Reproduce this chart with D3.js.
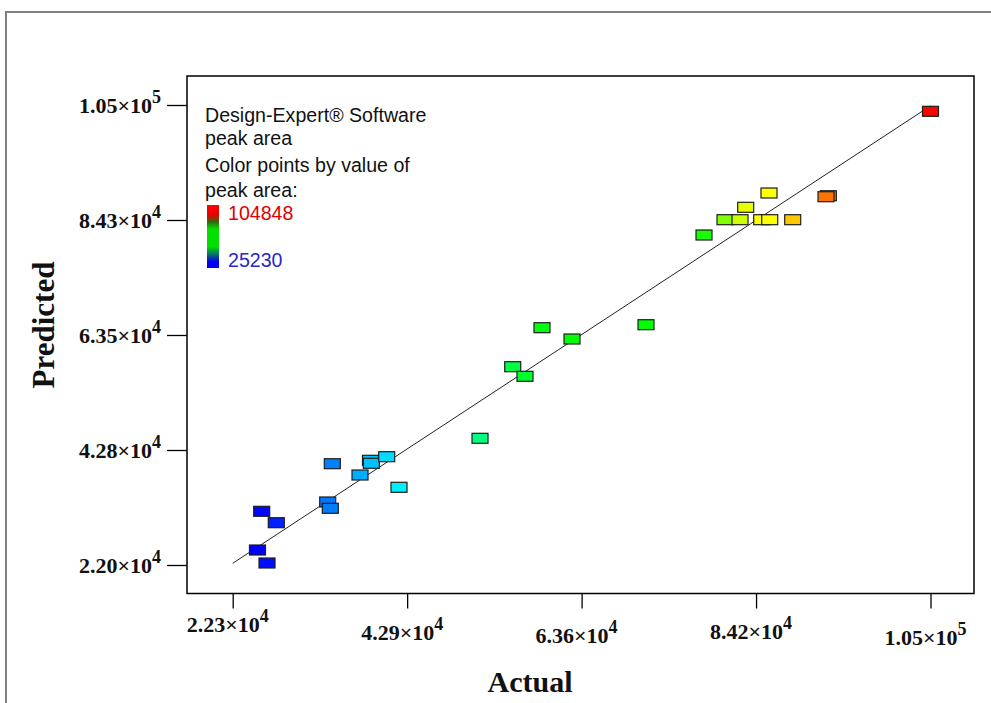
<!DOCTYPE html>
<html>
<head>
<meta charset="utf-8">
<script src="https://cdn.jsdelivr.net/npm/d3@7"></script>
<style>
  html, body { margin: 0; padding: 0; background: #ffffff; }
  svg { display: block; }
</style>
</head>
<body>
<script>
// Actual vs. predicted peak area (Design-Expert diagnostics plot)
const actualValues = [25230, 26358, 25731, 27458, 33539, 33846, 34083, 37360, 38600, 38700,
  40518, 41973, 51556, 55424, 56879, 58890, 62439, 71193, 78055, 80539,
  82314, 84881, 85827, 88548, 82988, 85744, 92760, 92487, 104848];
const predictedValues = [24706, 22361, 31689, 29632, 33367, 32230, 40278, 38239, 40891, 40350,
  41541, 36019, 44860, 57779, 56047, 64816, 62777, 65357, 81542, 84303,
  84303, 84303, 84303, 84303, 86540, 89120, 88630, 88450, 103860];

const xTickValues = [22300, 42937, 63574, 84211, 104848];
const xTickMantissa = ["2.23", "4.29", "6.36", "8.42", "1.05"];
const xTickExponent = ["4", "4", "4", "4", "5"];
const yTickValues = [22000, 42750, 63500, 84250, 105000];
const yTickMantissa = ["2.20", "4.28", "6.35", "8.43", "1.05"];
const yTickExponent = ["4", "4", "4", "4", "5"];

const colorMin = 25230;
const colorMax = 104848;
// colour ramp stops (peak area) and their colours
const colorStops = [25230, 43000, 60000, 77500, 83500, 86500, 88500, 92700, 104848];
const colorRamp = ["#0000ff", "#00ffff", "#00ff00", "#00ff00", "#ffff00", "#ffff00", "#ffc800", "#ff7000", "#ff0000"];
const legendLines = ["Design-Expert\u00AE Software", "peak area", "Color points by value of", "peak area:"];

// ---- layout ----
const W = 991, H = 703;
const frame = { left: 187, top: 76, right: 974, bottom: 593.5 };
const xLabelNudge = [-7, 1, 4, 0, 6];   // small vertical stagger of the x tick labels

const svg = d3.select("body").append("svg").attr("width", W).attr("height", H);

// outer grey border (top and left edges)
svg.append("path")
  .attr("d", `M6,${H} L6,12 L${W},12`)
  .attr("fill", "none").attr("stroke", "#808080").attr("stroke-width", 2);

const x = d3.scaleLinear().domain([xTickValues[0], xTickValues[4]]).range([232.7, 930.5]);
const y = d3.scaleLinear().domain([yTickValues[0], yTickValues[4]]).range([565, 105]);

const color = d3.scaleLinear().domain(colorStops).range(colorRamp);

// plot frame
svg.append("rect")
  .attr("x", frame.left).attr("y", frame.top)
  .attr("width", frame.right - frame.left).attr("height", frame.bottom - frame.top)
  .attr("fill", "none").attr("stroke", "#000").attr("stroke-width", 1.5);

// axes (tick marks only; labels carry superscripts)
const xAxis = svg.append("g").attr("transform", `translate(0,${frame.bottom})`)
  .call(d3.axisBottom(x).tickValues(xTickValues).tickSize(15).tickSizeOuter(0).tickFormat(""));
const yAxis = svg.append("g").attr("transform", `translate(${frame.left},0)`)
  .call(d3.axisLeft(y).tickValues(yTickValues).tickSize(20).tickSizeOuter(0).tickFormat(""));
[xAxis, yAxis].forEach(g => {
  g.select(".domain").remove();
  g.selectAll(".tick line").attr("stroke", "#000").attr("stroke-width", 1.3);
});

const serif = "'Liberation Serif', 'Times New Roman', serif";
const sans = "'Liberation Sans', Arial, sans-serif";

function sciLabel(sel, mant, expo) {
  sel.append("tspan").text(mant + "\u00D710");
  sel.append("tspan").attr("dy", -10).attr("font-size", 18).text(expo);
}

xTickValues.forEach((v, i) => {
  const t = svg.append("text")
    .attr("x", x(v) - 5).attr("y", 639 + xLabelNudge[i])
    .attr("text-anchor", "middle")
    .attr("font-family", serif).attr("font-weight", "bold").attr("font-size", 22)
    .attr("fill", "#111");
  sciLabel(t, xTickMantissa[i], xTickExponent[i]);
});

yTickValues.forEach((v, i) => {
  const t = svg.append("text")
    .attr("x", 161).attr("y", y(v) + 8)
    .attr("text-anchor", "end")
    .attr("font-family", serif).attr("font-weight", "bold").attr("font-size", 22)
    .attr("fill", "#111");
  sciLabel(t, yTickMantissa[i], yTickExponent[i]);
});

// axis titles
svg.append("text")
  .attr("x", 530).attr("y", 692)
  .attr("text-anchor", "middle")
  .attr("font-family", serif).attr("font-weight", "bold").attr("font-size", 30)
  .attr("fill", "#111").text("Actual");
svg.append("text")
  .attr("transform", "translate(54,325) rotate(-90)")
  .attr("text-anchor", "middle")
  .attr("font-family", serif).attr("font-weight", "bold").attr("font-size", 31)
  .attr("fill", "#111").text("Predicted");

// reference line: predicted = actual
svg.append("line")
  .attr("x1", x(xTickValues[0])).attr("y1", y(xTickValues[0]))
  .attr("x2", x(colorMax)).attr("y2", y(colorMax))
  .attr("stroke", "#222").attr("stroke-width", 1);

// points
const pts = actualValues.map((a, i) => ({ a, p: predictedValues[i] }));
svg.append("g").selectAll("rect").data(pts).join("rect")
  .attr("x", d => x(d.a) - 8).attr("y", d => y(d.p) - 5)
  .attr("width", 16).attr("height", 10)
  .attr("fill", d => color(d.a))
  .attr("stroke", "#1e1e1e").attr("stroke-width", 1.2);

// legend
const legend = svg.append("g").attr("font-family", sans).attr("font-size", 19.6).attr("fill", "#111");
const legendBase = [121.5, 145, 171.5, 196.5];
legendLines.forEach((s, i) => {
  legend.append("text").attr("x", 205).attr("y", legendBase[i]).text(s);
});

const defs = svg.append("defs");
const grad = defs.append("linearGradient").attr("id", "cbar")
  .attr("x1", 0).attr("y1", 0).attr("x2", 0).attr("y2", 1);
[[0, "#ff0000"], [0.16, "#e80000"], [0.27, "#2f6a10"], [0.38, "#00e000"],
 [0.66, "#00e000"], [0.8, "#0a6070"], [0.9, "#0000ff"], [1, "#0000ff"]]
  .forEach(([o, c]) => grad.append("stop").attr("offset", o).attr("stop-color", c));
svg.append("rect")
  .attr("x", 207).attr("y", 205).attr("width", 12).attr("height", 63)
  .attr("fill", "url(#cbar)");

svg.append("text").attr("x", 228).attr("y", 220)
  .attr("font-family", sans).attr("font-size", 19.6).attr("fill", "#e00000")
  .text(String(colorMax));
svg.append("text").attr("x", 228).attr("y", 267)
  .attr("font-family", sans).attr("font-size", 19.6).attr("fill", "#2828c8")
  .text(String(colorMin));
</script>
</body>
</html>
